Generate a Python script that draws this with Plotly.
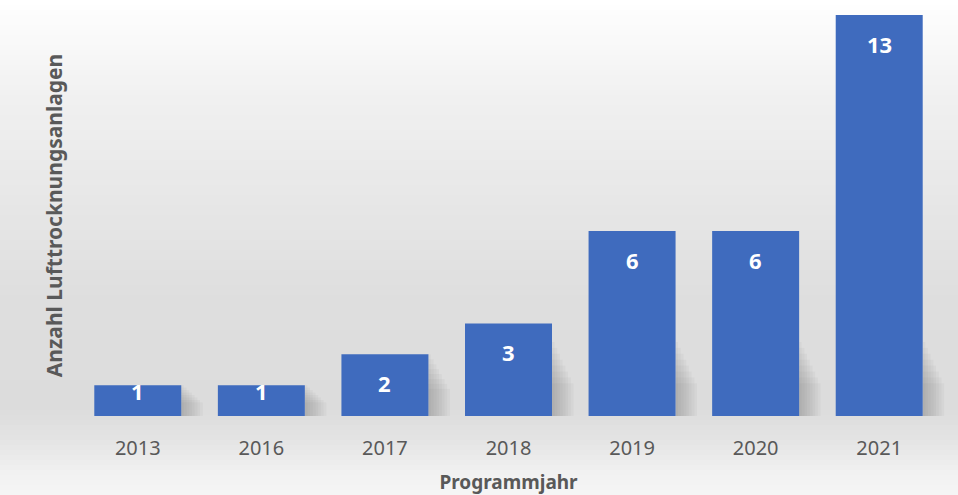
import plotly.graph_objects as go

# Anzahl geförderter Lufttrocknungsanlagen je Programmjahr
years = ["2013", "2016", "2017", "2018", "2019", "2020", "2021"]
counts = [1, 1, 2, 3, 6, 6, 13]

x_title = "Programmjahr"
y_title = "Anzahl Lufttrocknungsanlagen"

BAR_COLOR = "#3f6bbe"
TEXT_GRAY = "#595959"
FONT = "Noto Sans"

W, H = 958, 495
M_L, M_R, M_T, M_B = 76, 17, 15, 79
plot_w = W - M_L - M_R
plot_h = H - M_T - M_B
Y_MAX = 13


def px_to_paper_y(py):
    return (H - M_B - py) / plot_h


def bg_gray(py):
    # soft vertical gradient: white at the top, darker toward the axis, lighter again below
    stops = [(0, 255), (100, 240), (300, 222), (410, 220), (440, 228), (470, 240), (495, 246)]
    for (a, ca), (b, cb) in zip(stops, stops[1:]):
        if a <= py <= b:
            t = (py - a) / (b - a)
            return round(ca + (cb - ca) * t)
    return 246


shapes = []
step = 5
for py in range(0, H, step):
    g = bg_gray(py + step / 2)
    shapes.append(dict(
        type="rect", xref="paper", yref="paper", layer="below",
        x0=-M_L / plot_w, x1=1 + M_R / plot_w,
        y0=px_to_paper_y(py + step), y1=px_to_paper_y(py),
        line=dict(width=0), fillcolor=f"rgb({g},{g},{g})",
    ))

# soft drop shadows to the right of each bar (category slot i spans [i, i+1] / n in paper units)
n = len(years)
half = 0.352
for i, v in enumerate(counts):
    top = min(v, 2.4)
    for k in range(8):
        shapes.append(dict(
            type="rect", xref="paper", yref="y", layer="below",
            x0=(i + 0.5 + half) / n, x1=(i + 0.5 + half + 0.02 + 0.022 * k) / n,
            y0=-0.1, y1=top * (1 - 0.08 * k),
            line=dict(width=0), fillcolor="rgba(90,90,90,0.05)",
        ))

fig = go.Figure(go.Bar(
    x=years, y=counts,
    marker=dict(color=BAR_COLOR, line=dict(width=0)),
    hoverinfo="x+y",
))

annotations = []
for i, v in enumerate(counts):
    annotations.append(dict(
        x=i, y=v, xref="x", yref="y", text=str(v), showarrow=False,
        yanchor="middle", yshift=-29 if v >= 2 else -6,
        font=dict(family=FONT, size=22, color="#ffffff", weight="bold"),
    ))

fig.update_layout(
    width=W, height=H,
    margin=dict(l=M_L, r=M_R, t=M_T, b=M_B),
    paper_bgcolor="white", plot_bgcolor="rgba(0,0,0,0)",
    bargap=0.296,
    shapes=shapes,
    annotations=annotations,
    showlegend=False,
    xaxis=dict(
        type="category", range=[-0.5, n - 0.5], automargin=False,
        showgrid=False, showline=False, zeroline=False,
        ticks="outside", ticklen=14, tickcolor="rgba(0,0,0,0)",
        tickfont=dict(family=FONT, size=20, color=TEXT_GRAY),
        title=dict(text=x_title, standoff=15,
                   font=dict(family=FONT, size=19, color=TEXT_GRAY, weight="bold")),
    ),
    yaxis=dict(
        range=[0, Y_MAX], automargin=False,
        showgrid=False, showline=False, zeroline=False,
        showticklabels=False, ticks="",
        title=dict(text=y_title, standoff=6,
                   font=dict(family=FONT, size=21, color=TEXT_GRAY, weight="bold")),
    ),
)

fig.write_html("out.html")
